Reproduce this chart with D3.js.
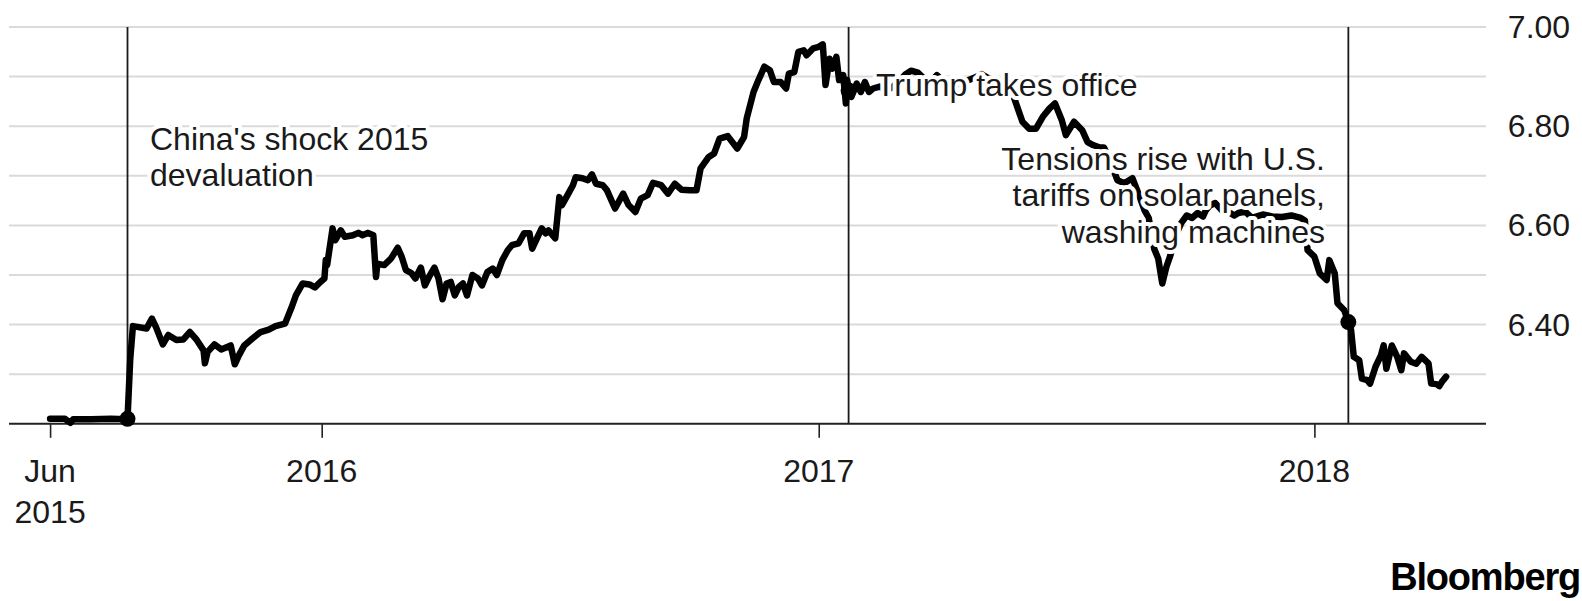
<!DOCTYPE html>
<html>
<head>
<meta charset="utf-8">
<script src="https://d3js.org/d3.v7.min.js"></script>
<style>
  html, body { margin: 0; padding: 0; background: #fff; }
  svg { display: block; }
  text { font-family: "Liberation Sans", Arial, Helvetica, sans-serif; }
</style>
</head>
<body>
<div id="chart"></div>
<script>
// ---------------- DATA ----------------
const dates = [
  "2015-06-15","2015-06-26","2015-06-30","2015-07-02","2015-07-15","2015-07-30","2015-08-10","2015-08-11",
  "2015-08-13","2015-08-15","2015-08-25","2015-08-29","2015-09-01","2015-09-06","2015-09-10","2015-09-16",
  "2015-09-21","2015-09-26","2015-10-01","2015-10-06","2015-10-07","2015-10-09","2015-10-14","2015-10-19",
  "2015-10-26","2015-10-29","2015-11-01","2015-11-05","2015-11-11","2015-11-17","2015-11-23","2015-11-28",
  "2015-12-05","2015-12-10","2015-12-13","2015-12-18","2015-12-23","2015-12-27","2015-12-31",
  "2016-01-03","2016-01-04","2016-01-05","2016-01-09","2016-01-11","2016-01-15","2016-01-18","2016-01-24",
  "2016-01-28","2016-01-31","2016-02-04","2016-02-08","2016-02-10","2016-02-11","2016-02-16","2016-02-21",
  "2016-02-26","2016-02-29","2016-03-03","2016-03-07","2016-03-10","2016-03-14","2016-03-17","2016-03-20",
  "2016-03-24","2016-03-27","2016-03-30","2016-04-02","2016-04-05","2016-04-08","2016-04-11","2016-04-14",
  "2016-04-17","2016-04-21","2016-04-25","2016-04-28","2016-05-02","2016-05-06","2016-05-09","2016-05-13",
  "2016-05-17","2016-05-20","2016-05-25","2016-05-29","2016-06-02","2016-06-04","2016-06-08","2016-06-11",
  "2016-06-14","2016-06-16","2016-06-21","2016-06-24","2016-06-26","2016-06-30","2016-07-04","2016-07-06",
  "2016-07-11","2016-07-15","2016-07-18","2016-07-21","2016-07-26","2016-07-29","2016-08-04","2016-08-10",
  "2016-08-14","2016-08-19","2016-08-23","2016-08-28","2016-09-01","2016-09-07","2016-09-12","2016-09-17",
  "2016-09-22","2016-09-28","2016-10-03","2016-10-06","2016-10-12","2016-10-16","2016-10-20","2016-10-26",
  "2016-11-02","2016-11-07","2016-11-09","2016-11-14","2016-11-17","2016-11-22","2016-11-26","2016-11-29",
  "2016-12-04","2016-12-08","2016-12-10","2016-12-14","2016-12-17","2016-12-21","2016-12-23","2016-12-28",
  "2017-01-01","2017-01-04","2017-01-06","2017-01-09","2017-01-11","2017-01-14","2017-01-16","2017-01-19",
  "2017-01-21","2017-01-22","2017-01-23","2017-01-25","2017-01-29","2017-02-01","2017-02-04","2017-02-07",
  "2017-02-10","2017-02-15","2017-02-20","2017-02-24","2017-03-01","2017-03-06","2017-03-10","2017-03-15",
  "2017-03-20","2017-03-24","2017-03-29","2017-04-03","2017-04-10","2017-04-14","2017-04-19","2017-04-25",
  "2017-05-01","2017-05-05","2017-05-10","2017-05-15","2017-05-19","2017-05-23","2017-05-25","2017-05-31",
  "2017-06-05","2017-06-10","2017-06-15","2017-06-20","2017-06-24","2017-06-29","2017-07-02","2017-07-08",
  "2017-07-14","2017-07-18","2017-07-22","2017-07-27","2017-07-30","2017-08-03","2017-08-06","2017-08-09",
  "2017-08-14","2017-08-20","2017-08-25","2017-08-29","2017-09-01","2017-09-05","2017-09-08","2017-09-11",
  "2017-09-14","2017-09-17","2017-09-21","2017-09-25","2017-09-29","2017-10-03","2017-10-07","2017-10-11",
  "2017-10-13","2017-10-16","2017-10-20","2017-10-25","2017-10-31","2017-11-03","2017-11-06","2017-11-11",
  "2017-11-16","2017-11-24","2017-12-01","2017-12-08","2017-12-15","2017-12-22","2017-12-25","2017-12-27",
  "2018-01-01","2018-01-05","2018-01-10","2018-01-12","2018-01-16","2018-01-18","2018-01-23","2018-01-26",
  "2018-01-28","2018-01-30","2018-02-03","2018-02-05","2018-02-09","2018-02-11","2018-02-15","2018-02-19",
  "2018-02-21","2018-02-23","2018-02-27","2018-03-03","2018-03-06","2018-03-08","2018-03-13","2018-03-17",
  "2018-03-21","2018-03-26","2018-03-28","2018-04-01","2018-04-03","2018-04-05","2018-04-08"
];
const values = [
  6.210,6.210,6.202,6.209,6.209,6.210,6.209,6.210,
  6.330,6.397,6.392,6.412,6.395,6.360,6.379,6.369,
  6.370,6.385,6.369,6.348,6.322,6.345,6.360,6.350,
  6.358,6.320,6.338,6.358,6.372,6.385,6.390,6.397,
  6.402,6.436,6.459,6.483,6.481,6.475,6.486,
  6.493,6.530,6.520,6.594,6.570,6.590,6.577,6.580,
  6.585,6.580,6.585,6.580,6.496,6.523,6.520,6.533,
  6.555,6.536,6.510,6.504,6.493,6.515,6.479,6.496,
  6.515,6.493,6.451,6.483,6.486,6.459,6.476,6.483,
  6.459,6.500,6.493,6.479,6.506,6.513,6.500,6.530,
  6.550,6.560,6.564,6.584,6.584,6.553,6.577,6.594,
  6.584,6.590,6.574,6.657,6.641,6.661,6.681,6.697,
  6.695,6.691,6.703,6.684,6.681,6.671,6.634,6.664,
  6.641,6.627,6.654,6.661,6.686,6.681,6.664,6.684,
  6.672,6.671,6.671,6.715,6.738,6.745,6.775,6.780,
  6.755,6.778,6.816,6.869,6.889,6.920,6.913,6.889,
  6.889,6.876,6.906,6.909,6.950,6.953,6.943,6.957,
  6.960,6.965,6.883,6.936,6.916,6.940,6.893,6.903,
  6.846,6.893,6.872,6.859,6.886,6.869,6.889,6.869,
  6.876,6.880,6.872,6.878,6.890,6.905,6.912,6.908,
  6.895,6.888,6.903,6.890,6.895,6.885,6.890,6.897,
  6.905,6.898,6.893,6.890,6.885,6.870,6.856,6.809,
  6.795,6.795,6.819,6.836,6.846,6.812,6.782,6.809,
  6.792,6.768,6.762,6.757,6.757,6.735,6.712,6.691,
  6.685,6.695,6.660,6.630,6.615,6.553,6.533,6.483,
  6.516,6.540,6.580,6.605,6.620,6.615,6.625,6.618,
  6.630,6.640,6.645,6.630,6.625,6.620,6.625,6.628,
  6.615,6.622,6.618,6.617,6.620,6.615,6.610,6.550,
  6.537,6.503,6.490,6.530,6.503,6.443,6.429,6.405,
  6.389,6.335,6.328,6.291,6.288,6.281,6.315,6.338,
  6.358,6.311,6.358,6.335,6.308,6.342,6.325,6.321,
  6.335,6.322,6.281,6.280,6.276,6.285,6.295
];
const eventDates = ["2015-08-11", "2017-01-23", "2018-01-26"];
const eventLabels = [
  ["China's shock 2015", "devaluation"],
  ["Trump takes office"],
  ["Tensions rise with U.S.", "tariffs on solar panels,", "washing machines"]
];
const xTickDates = ["2015-06-15", "2016-01-01", "2017-01-01", "2018-01-01"];
const xTickLabels = [["Jun", "2015"], ["2016"], ["2017"], ["2018"]];
const yGridValues = [6.3, 6.4, 6.5, 6.6, 6.7, 6.8, 6.9, 7.0];
const yLabelValues = [6.4, 6.6, 6.8, 7.0];
const source = "Bloomberg";

// ---------------- CHART ----------------
const W = 1582, H = 601;
const parse = d3.utcParse("%Y-%m-%d");
const data = dates.map((d, i) => ({ date: parse(d), value: values[i] }));

const x = d3.scaleUtc()
  .domain([parse("2016-01-01"), parse("2018-01-01")])
  .range([321.7, 1314.4]);
const y = d3.scaleLinear().domain([6.2, 7.0]).range([423.8, 27.0]);

const plotLeft = 9, plotRight = 1486;
const FONT = 32;
const ink = "#1a1a1a";

const svg = d3.select("#chart").append("svg")
  .attr("width", W).attr("height", H)
  .attr("viewBox", `0 0 ${W} ${H}`);
svg.append("rect").attr("width", W).attr("height", H).attr("fill", "#fff");

// gridlines
svg.append("g").selectAll("line").data(yGridValues).join("line")
  .attr("x1", plotLeft).attr("x2", plotRight)
  .attr("y1", d => y(d)).attr("y2", d => y(d))
  .attr("stroke", "#dadada").attr("stroke-width", 2);

// y labels
svg.append("g").selectAll("text").data(yLabelValues).join("text")
  .attr("x", 1539).attr("y", d => y(d) + 11)
  .attr("text-anchor", "middle")
  .attr("font-size", FONT).attr("fill", ink)
  .text(d => d.toFixed(2));

// event vertical lines
svg.append("g").selectAll("line").data(eventDates).join("line")
  .attr("x1", d => x(parse(d))).attr("x2", d => x(parse(d)))
  .attr("y1", y(7.0)).attr("y2", y(6.2))
  .attr("stroke", "#1a1a1a").attr("stroke-width", 1.8);

// x axis
const xAxis = d3.axisBottom(x)
  .tickValues(xTickDates.map(parse))
  .tickSize(14)
  .tickFormat("");
const gx = svg.append("g").attr("transform", `translate(0,${y(6.2)})`).call(xAxis);
gx.select(".domain").remove();
gx.selectAll(".tick line").attr("stroke", "#222").attr("stroke-width", 1.6);
svg.append("line")
  .attr("x1", plotLeft).attr("x2", plotRight)
  .attr("y1", y(6.2)).attr("y2", y(6.2))
  .attr("stroke", "#222").attr("stroke-width", 2);

const xl = svg.append("g").selectAll("text").data(xTickDates).join("text")
  .attr("text-anchor", "middle")
  .attr("font-size", FONT).attr("fill", ink)
  .attr("x", d => x(parse(d))).attr("y", 482);
xl.each(function(d, i) {
  const t = d3.select(this);
  xTickLabels[i].forEach((s, k) => {
    t.append("tspan").attr("x", x(parse(d))).attr("dy", k === 0 ? 0 : 40.5).text(s);
  });
});

// data line
const line = d3.line().x(d => x(d.date)).y(d => y(d.value)).curve(d3.curveLinear);
svg.append("path").datum(data)
  .attr("d", line)
  .attr("fill", "none").attr("stroke", "#000")
  .attr("stroke-width", 6.5)
  .attr("stroke-linejoin", "round").attr("stroke-linecap", "round");

// event dots
const dotData = eventDates.map(d => data.find(p => +p.date === +parse(d)));
svg.append("g").selectAll("circle").data(dotData).join("circle")
  .attr("cx", d => x(d.date)).attr("cy", d => y(d.value))
  .attr("r", 8).attr("fill", "#000");

// annotations (with white halo)
const annPos = [
  { x: 150, y: 150, anchor: "start" },
  { x: 876, y: 96, anchor: "start" },
  { x: 1325, y: 170, anchor: "end" }
];
eventLabels.forEach((lines, i) => {
  const p = annPos[i];
  const t = svg.append("text")
    .attr("x", p.x).attr("y", p.y)
    .attr("text-anchor", p.anchor)
    .attr("font-size", FONT).attr("fill", ink)
    .attr("stroke", "#fff").attr("stroke-width", 8)
    .attr("stroke-linejoin", "round")
    .style("paint-order", "stroke fill");
  lines.forEach((s, k) => {
    t.append("tspan").attr("x", p.x).attr("dy", k === 0 ? 0 : 36.3).text(s);
  });
});

// source logo
svg.append("text")
  .attr("x", 1580).attr("y", 590)
  .attr("text-anchor", "end")
  .attr("font-size", 38).attr("font-weight", "bold")
  .attr("letter-spacing", -1.2)
  .attr("fill", "#000")
  .text(source);
</script>
</body>
</html>
